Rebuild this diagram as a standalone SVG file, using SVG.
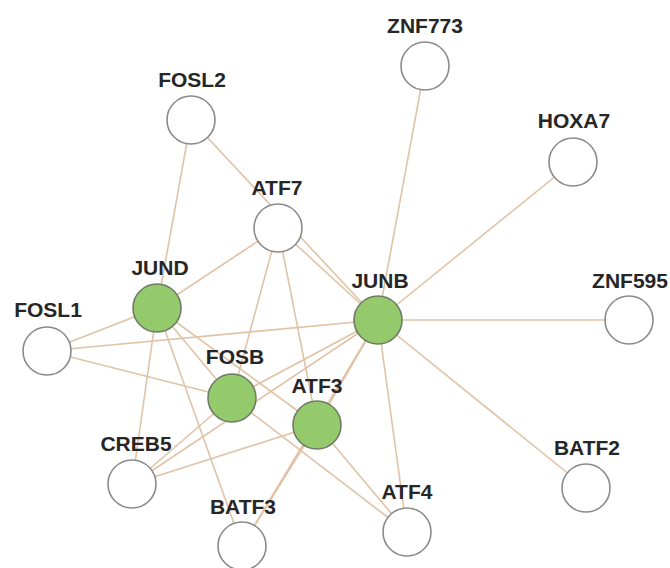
<svg xmlns="http://www.w3.org/2000/svg" width="670" height="568" viewBox="0 0 670 568">
<style>
.e{stroke:#e0c3a6;stroke-width:1.6;fill:none}
.n{fill:#ffffff;stroke:#8a8a8a;stroke-width:1.6}
.g{fill:#94c96c;stroke:#6e7b66;stroke-width:1.6}
.t{font-family:"Liberation Sans",Arial,sans-serif;font-size:21px;font-weight:bold;fill:#262626;text-anchor:middle}
</style>
<rect width="670" height="568" fill="#ffffff"/>
<g id="connectors">
<line class="e" x1="191" y1="120" x2="157" y2="308"/>
<line class="e" x1="191" y1="120" x2="378" y2="320"/>
<line class="e" x1="278" y1="228" x2="157" y2="308"/>
<line class="e" x1="278" y1="228" x2="378" y2="320"/>
<line class="e" x1="278" y1="228" x2="232" y2="398"/>
<line class="e" x1="278" y1="228" x2="317" y2="425"/>
<line class="e" x1="157" y1="308" x2="47" y2="351"/>
<line class="e" x1="157" y1="308" x2="232" y2="398"/>
<line class="e" x1="157" y1="308" x2="317" y2="425"/>
<line class="e" x1="157" y1="308" x2="132" y2="484"/>
<line class="e" x1="157" y1="308" x2="242" y2="546"/>
<line class="e" x1="47" y1="351" x2="378" y2="320"/>
<line class="e" x1="47" y1="351" x2="232" y2="398"/>
<line class="e" x1="232" y1="398" x2="378" y2="320"/>
<line class="e" x1="232" y1="398" x2="132" y2="484"/>
<line class="e" x1="232" y1="398" x2="407" y2="532"/>
<line class="e" x1="132" y1="484" x2="378" y2="320"/>
<line class="e" x1="132" y1="484" x2="317" y2="425"/>
<line class="e" x1="317" y1="425" x2="378" y2="320"/>
<line class="e" x1="317" y1="425" x2="407" y2="532"/>
<line class="e" x1="317" y1="425" x2="242" y2="546"/>
<line class="e" x1="242" y1="546" x2="378" y2="320"/>
<line class="e" x1="378" y1="320" x2="407" y2="532"/>
<line class="e" x1="378" y1="320" x2="425" y2="66"/>
<line class="e" x1="378" y1="320" x2="573" y2="162"/>
<line class="e" x1="378" y1="320" x2="629" y2="320"/>
<line class="e" x1="378" y1="320" x2="586" y2="488"/>
</g>
<g id="ZNF773"><circle class="n" cx="425" cy="66" r="24"/><text class="t" x="425" y="33">ZNF773</text></g>
<g id="FOSL2"><circle class="n" cx="191" cy="120" r="24"/><text class="t" x="192" y="87">FOSL2</text></g>
<g id="HOXA7"><circle class="n" cx="573" cy="162" r="24"/><text class="t" x="574" y="128">HOXA7</text></g>
<g id="ATF7"><circle class="n" cx="278" cy="228" r="24"/><text class="t" x="277" y="195">ATF7</text></g>
<g id="JUND"><circle class="g" cx="157" cy="308" r="24"/><text class="t" x="160" y="275">JUND</text></g>
<g id="JUNB"><circle class="g" cx="378" cy="320" r="24"/><text class="t" x="380" y="288">JUNB</text></g>
<g id="ZNF595"><circle class="n" cx="629" cy="320" r="24"/><text class="t" x="630" y="288">ZNF595</text></g>
<g id="FOSL1"><circle class="n" cx="47" cy="351" r="24"/><text class="t" x="48" y="317">FOSL1</text></g>
<g id="FOSB"><circle class="g" cx="232" cy="398" r="24"/><text class="t" x="235" y="364">FOSB</text></g>
<g id="ATF3"><circle class="g" cx="317" cy="425" r="24"/><text class="t" x="317" y="393">ATF3</text></g>
<g id="CREB5"><circle class="n" cx="132" cy="484" r="24"/><text class="t" x="136" y="451">CREB5</text></g>
<g id="BATF2"><circle class="n" cx="586" cy="488" r="24"/><text class="t" x="587" y="455">BATF2</text></g>
<g id="ATF4"><circle class="n" cx="407" cy="532" r="24"/><text class="t" x="407" y="499">ATF4</text></g>
<g id="BATF3"><circle class="n" cx="242" cy="546" r="24"/><text class="t" x="243" y="514">BATF3</text></g>
</svg>
